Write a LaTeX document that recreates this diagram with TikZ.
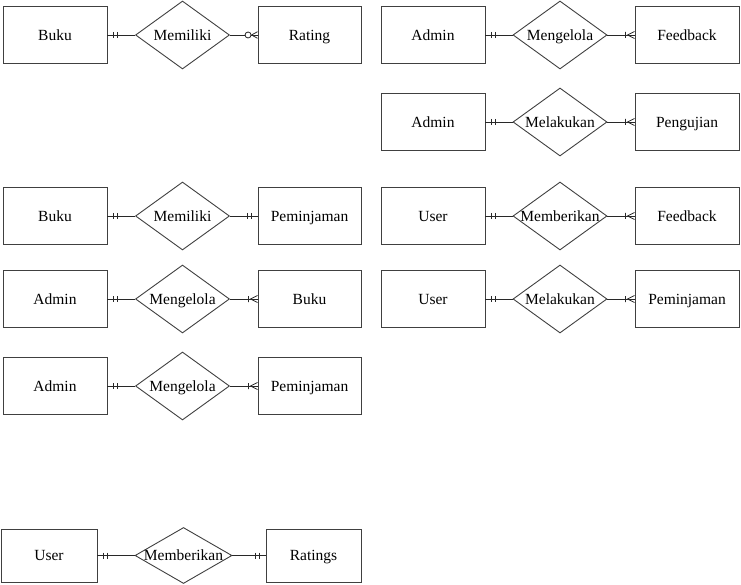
\documentclass[tikz,border=0pt]{standalone}
\usepackage{fontspec}
\setmainfont{Liberation Serif}
\usetikzlibrary{shapes.geometric}
\definecolor{edgegray}{RGB}{64,64,64}
\definecolor{linegray}{RGB}{40,40,40}
\tikzset{
  lbl/.style={font=\fontsize{15.5}{18}\selectfont, text height=14pt, text depth=3.6pt},
  ent/.style={lbl, draw=edgegray, line width=0.9pt, rectangle, inner sep=0pt,
    minimum width=104pt, minimum height=57pt},
  rel/.style={lbl, draw=edgegray, line width=0.9pt, diamond, inner sep=0pt,
    minimum width=94pt, minimum height=68pt},
  link/.style={line width=0.8pt, draw=linegray},
  % cardinality marks: entity edge at the origin, line coming from -x
  mandone/.pic={\draw[link] (-6,-3)--(-6,3) (-10,-3)--(-10,3);},
  onemany/.pic={\draw[link] (-9,-3)--(-9,3) (0,3.5)--(-7,0)--(0,-3.5);},
  zeromany/.pic={\draw[link] (0,3.3)--(-6,0)--(0,-3.3);
    \draw[link, fill=white] (-9.5,0) circle (3pt);}
}
\newcommand{\rtext}[1]{\makebox[0pt][c]{#1}}
\begin{document}
\begin{tikzpicture}[x=1pt, y=-1pt]
\useasboundingbox (0,0) rectangle (741,585);

% left column
\node[ent] (bukuA) at (55,35) {Buku};
\node[rel] (milikiA) at (182.5,35) {\rtext{Memiliki}};
\node[ent, minimum width=103pt] (rating) at (309.5,35) {Rating};

\node[ent] (bukuB) at (55,216) {Buku};
\node[rel] (milikiB) at (182.5,216) {\rtext{Memiliki}};
\node[ent, minimum width=103pt] (pinjamB) at (309.5,216) {Peminjaman};

\node[ent] (adminC) at (55,299) {Admin};
\node[rel] (kelolaC) at (182.5,299) {\rtext{Mengelola}};
\node[ent, minimum width=103pt] (bukuC) at (309.5,299) {Buku};

\node[ent] (adminD) at (55,386) {Admin};
\node[rel] (kelolaD) at (182.5,386) {\rtext{Mengelola}};
\node[ent, minimum width=103pt] (pinjamD) at (309.5,386) {Peminjaman};

\node[ent, minimum width=96pt, minimum height=53pt] (userE) at (49,555.5) {User};
\node[rel, minimum width=97pt, minimum height=56pt] (beriE) at (183.5,555.5) {\rtext{Memberikan}};
\node[ent, minimum width=95pt, minimum height=53pt] (ratings) at (313.5,555.5) {Ratings};

% right column
\node[ent] (adminF) at (433,35) {Admin};
\node[rel] (kelolaF) at (560,35) {\rtext{Mengelola}};
\node[ent] (feedF) at (687,35) {Feedback};

\node[ent] (adminG) at (433,122) {Admin};
\node[rel] (lakukanG) at (560,122) {\rtext{Melakukan}};
\node[ent] (uji) at (687,122) {Pengujian};

\node[ent] (userH) at (433,216) {User};
\node[rel] (beriH) at (560,216) {\rtext{Memberikan}};
\node[ent] (feedH) at (687,216) {Feedback};

\node[ent] (userI) at (433,299) {User};
\node[rel] (lakukanI) at (560,299) {\rtext{Melakukan}};
\node[ent] (pinjamI) at (687,299) {Peminjaman};

% connectors
\foreach \a/\r/\b in {bukuA/milikiA/rating, bukuB/milikiB/pinjamB,
    adminC/kelolaC/bukuC, adminD/kelolaD/pinjamD, userE/beriE/ratings,
    adminF/kelolaF/feedF, adminG/lakukanG/uji, userH/beriH/feedH,
    userI/lakukanI/pinjamI}{
  \draw[link] (\a.east) -- (\r.west);
  \draw[link] (\r.east) -- (\b.west);
  \pic[xscale=-1] at (\a.east) {mandone};
}

% cardinality at the far entity
\pic at (rating.west) {zeromany};
\pic at (pinjamB.west) {mandone};
\pic at (bukuC.west) {onemany};
\pic at (pinjamD.west) {onemany};
\pic at (ratings.west) {mandone};
\pic at (feedF.west) {onemany};
\pic at (uji.west) {onemany};
\pic at (feedH.west) {onemany};
\pic at (pinjamI.west) {onemany};
\end{tikzpicture}
\end{document}
